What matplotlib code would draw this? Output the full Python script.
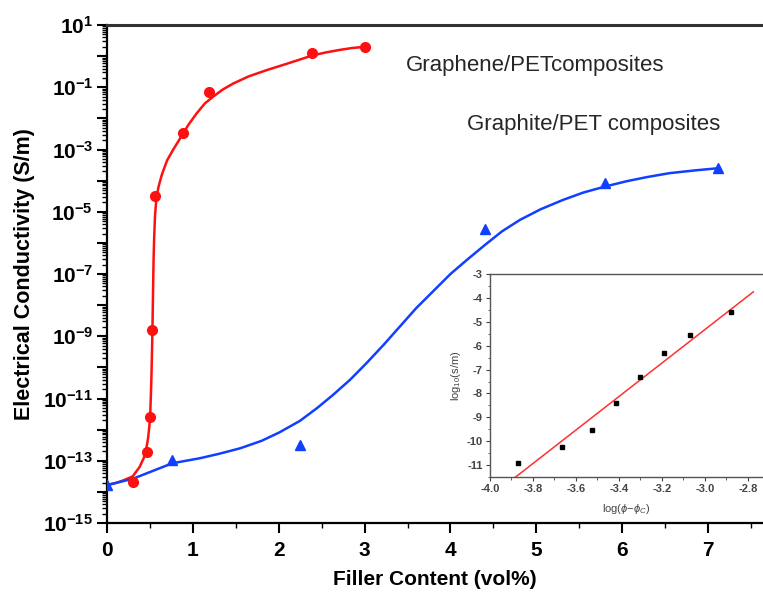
import numpy as np
import matplotlib
matplotlib.use("Agg")
import matplotlib.pyplot as plt
from matplotlib.ticker import LogLocator, FuncFormatter, MultipleLocator, NullFormatter

plt.rcParams['font.family'] = ['Liberation Sans', 'DejaVu Sans']
plt.rcParams['mathtext.fontset'] = 'custom'
plt.rcParams['mathtext.rm'] = 'Liberation Sans'
plt.rcParams['mathtext.it'] = 'Liberation Sans:italic'
plt.rcParams['mathtext.bf'] = 'Liberation Sans:bold'

# graphene / PET measurements (vol%, S/m)
graphene_x = [0.30, 0.465, 0.50, 0.53, 0.555, 0.885, 1.19, 2.39, 3.0]
graphene_y = [2.1e-14, 1.9e-13, 2.6e-12, 1.6e-9, 3.3e-5, 3.3e-3, 6.9e-2, 1.23, 2.0]

# graphite / PET measurements
graphite_x = [0.0, 0.76, 2.25, 4.40, 5.80, 7.12]
graphite_y = [1.65e-14, 1.07e-13, 3.2e-13, 2.7e-6, 8.7e-5, 2.6e-4]

# fitted curves, log10 of conductivity along the filler axis
graphene_fit_x = [0.0, 0.1, 0.2, 0.3, 0.38, 0.43, 0.462, 0.48, 0.493, 0.505, 0.515,
                  0.522, 0.528, 0.533, 0.538, 0.543, 0.55, 0.56, 0.575, 0.6, 0.64, 0.70,
                  0.772, 0.85, 0.95, 1.044, 1.14, 1.237, 1.35, 1.47, 1.65, 1.859, 2.1,
                  2.39, 2.55, 2.71, 2.85, 3.0]
graphene_fit_log = [-13.78, -13.72, -13.62, -13.50, -13.2, -12.9, -12.55, -12.25, -11.9,
                    -11.4, -10.6, -9.8, -9.0, -8.2, -7.3, -6.5, -5.8, -5.1, -4.6, -4.2,
                    -3.8, -3.35, -3.0, -2.65, -2.2, -1.84, -1.52, -1.30, -1.07, -0.88,
                    -0.65, -0.45, -0.24, 0.02, 0.12, 0.20, 0.26, 0.30]

graphite_fit_x = [0.0, 0.3, 0.76, 1.08, 1.3, 1.55, 1.8, 2.0, 2.246, 2.45, 2.634, 2.83,
                  3.02, 3.22, 3.41, 3.6, 3.80, 4.0, 4.19, 4.40, 4.6, 4.81, 5.05, 5.31,
                  5.55, 5.80, 6.05, 6.28, 6.55, 6.85, 7.12]
graphite_fit_log = [-13.78, -13.58, -13.08, -12.92, -12.78, -12.6, -12.36, -12.1, -11.72,
                    -11.3, -10.88, -10.4, -9.87, -9.28, -8.69, -8.1, -7.55, -7.0, -6.55,
                    -6.07, -5.63, -5.26, -4.92, -4.62, -4.38, -4.19, -4.02, -3.89, -3.76,
                    -3.67, -3.60]

# inset: log-log percolation plot
inset_x = [-3.868, -3.664, -3.526, -3.413, -3.30, -3.19, -3.068, -2.881]
inset_y = [-10.93, -10.23, -9.54, -8.39, -7.30, -6.32, -5.53, -4.58]
inset_fit_x = [-3.883, -2.775]
inset_fit_y = [-11.52, -3.74]

fig = plt.figure(figsize=(7.63, 6.0), dpi=100)
ax = fig.add_axes([0.1402, 0.1283, 0.8598, 0.83])

red = '#ff1010'
blue = '#1040ff'

ax.plot(graphene_fit_x, np.power(10.0, graphene_fit_log), color=red, lw=1.8, zorder=3,
        solid_joinstyle='round')
ax.plot(graphene_x, graphene_y, 'o', color=red, ms=7, zorder=4)
ax.plot(graphite_fit_x, np.power(10.0, graphite_fit_log), color=blue, lw=1.8, zorder=3,
        solid_joinstyle='round')
ax.plot(graphite_x, graphite_y, '^', color=blue, ms=7.5, zorder=4)

ax.set_yscale('log')
ax.set_xlim(0, 7.64)
ax.set_ylim(1e-15, 10)

ax.yaxis.set_major_locator(LogLocator(base=10, numticks=30))
ax.yaxis.set_minor_locator(LogLocator(base=10, subs=np.arange(2, 10), numticks=30))
ax.yaxis.set_minor_formatter(NullFormatter())


def odd_decade(v, pos):
    e = int(round(np.log10(v)))
    if e % 2 == 0:
        return ''
    return r'$\mathbf{10^{%d}}$' % e


ax.yaxis.set_major_formatter(FuncFormatter(odd_decade))
ax.xaxis.set_major_locator(MultipleLocator(1))
ax.xaxis.set_minor_locator(MultipleLocator(0.5))

ax.tick_params(which='major', direction='out', length=7, width=1.5, labelsize=15, pad=3)
ax.tick_params(axis='x', which='major', pad=6)
ax.tick_params(which='minor', direction='out', length=3.5, width=1.0)
for lab in ax.get_xticklabels():
    lab.set_fontweight('bold')

ax.spines['right'].set_visible(False)
ax.spines['top'].set_linewidth(2.2)
ax.spines['top'].set_color('#333333')
ax.spines['left'].set_linewidth(1.6)
ax.spines['bottom'].set_linewidth(1.6)

ax.set_xlabel('Filler Content (vol%)', fontsize=15, fontweight='bold', labelpad=7)
ax.set_ylabel('Electrical Conductivity (S/m)', fontsize=15.5, fontweight='bold', labelpad=6)

ax.text(3.48, 10 ** -0.285, 'Graphene/PETcomposites', fontsize=16, color='#262626',
        ha='left', va='center')
ax.text(4.19, 10 ** -2.21, 'Graphite/PET composites', fontsize=16, color='#262626',
        ha='left', va='center')

# inset
ins = fig.add_axes([0.642, 0.205, 0.358, 0.338])
ins.plot(inset_fit_x, inset_fit_y, color='#ff3030', lw=1.1)
ins.plot(inset_x, inset_y, 's', color='black', ms=3.5)
ins.set_xlim(-4.0, -2.73)
ins.set_ylim(-11.5, -3)
ins.xaxis.set_major_locator(MultipleLocator(0.2))
ins.xaxis.set_minor_locator(MultipleLocator(0.1))
ins.yaxis.set_major_locator(MultipleLocator(1))
ins.yaxis.set_minor_locator(MultipleLocator(0.5))
ins.xaxis.set_major_formatter(FuncFormatter(lambda v, p: '%.1f' % v))
ins.yaxis.set_major_formatter(FuncFormatter(lambda v, p: '%d' % round(v)))
ins.tick_params(which='major', direction='out', length=3, width=0.8, labelsize=8,
                colors='#444444', pad=2)
ins.tick_params(which='minor', direction='out', length=1.8, width=0.6, colors='#444444')
for lab in ins.get_xticklabels() + ins.get_yticklabels():
    lab.set_fontweight('bold')
for side in ['top', 'left', 'bottom']:
    ins.spines[side].set_color('#555555')
    ins.spines[side].set_linewidth(1.0)
ins.spines['right'].set_visible(False)
ins.set_xlabel(r'log($\phi$$-$$\phi_C$)', fontsize=8, color='#444444', labelpad=6)
ins.set_ylabel(r'log$_{10}$(s/m)', fontsize=8, color='#444444', labelpad=3)

fig.savefig('out.png', dpi=100)
